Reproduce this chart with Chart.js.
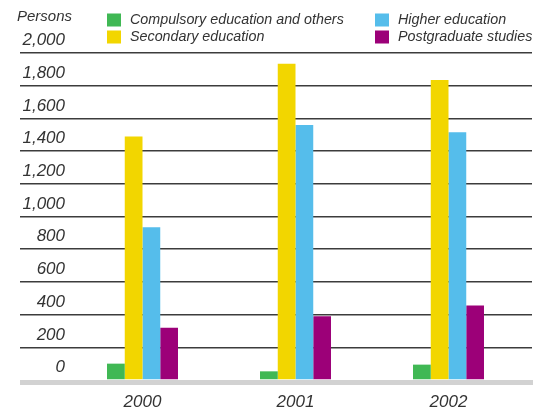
<!DOCTYPE html>
<html>
<head>
<meta charset="utf-8">
<title>Persons by education level, 2000–2002</title>
<script src="https://cdn.jsdelivr.net/npm/chart.js@4/dist/chart.umd.min.js"></script>
<style>
  html, body { margin: 0; padding: 0; background: #ffffff; }
  #wrap { width: 546px; height: 411px; position: relative; }
</style>
</head>
<body>
<div id="wrap"><canvas id="chart" width="546" height="411"></canvas></div>
<script>
// Categories and series (persons)
const years = ['2000', '2001', '2002'];
const compulsory = [100, 53, 94];
const secondary = [1490, 1935, 1835];
const higher = [935, 1560, 1515];
const postgraduate = [320, 390, 455];

const seriesNames = [
  'Compulsory education and others',
  'Secondary education',
  'Higher education',
  'Postgraduate studies'
];
const seriesColors = ['#40b854', '#f2d600', '#55bdeb', '#9c0078'];

const yMin = 0;
const yMax = 2000;
const yStep = 200;
const unitLabel = 'Persons';

const FONT = '"Liberation Sans", Arial, Helvetica, sans-serif';
const TEXT = '#333333';
const GRID = '#3c3c3c';

// Light grey base band under the zero line
const baseBand = {
  id: 'baseBand',
  beforeDatasetsDraw(chart) {
    const y = chart.scales.y.getPixelForValue(0);
    const ctx = chart.ctx;
    ctx.save();
    ctx.fillStyle = '#d2d2d2';
    ctx.fillRect(20, y, 513, 5);
    ctx.restore();
  }
};

// Unit caption and two-column legend at the top
const headLegend = {
  id: 'headLegend',
  afterDraw(chart) {
    const ctx = chart.ctx;
    ctx.save();
    ctx.textBaseline = 'middle';
    ctx.textAlign = 'left';
    ctx.fillStyle = TEXT;
    ctx.font = 'italic 15px ' + FONT;
    ctx.fillText(unitLabel, 17, 17);

    const cols = [107, 375];
    const rows = [20, 37];
    ctx.font = 'italic 14.3px ' + FONT;
    chart.data.datasets.forEach((ds, i) => {
      const cx = cols[Math.floor(i / 2)];
      const cy = rows[i % 2];
      ctx.fillStyle = ds.backgroundColor;
      ctx.fillRect(cx, cy - 6.5, 14, 13);
      ctx.fillStyle = TEXT;
      ctx.fillText(ds.label, cx + 23, cy);
    });
    ctx.restore();
  }
};

const gridColor = (c) => (c.tick && c.tick.value === 0 ? 'rgba(0,0,0,0)' : GRID);

new Chart(document.getElementById('chart'), {
  type: 'bar',
  data: {
    labels: years,
    datasets: [compulsory, secondary, higher, postgraduate].map((d, i) => ({
      label: seriesNames[i],
      data: d,
      backgroundColor: seriesColors[i],
      borderWidth: 0,
      categoryPercentage: 0.464,
      barPercentage: 1
    }))
  },
  options: {
    responsive: false,
    devicePixelRatio: 1,
    animation: false,
    layout: { padding: { top: 53, right: 14, bottom: 0, left: 0 } },
    plugins: {
      legend: { display: false },
      tooltip: { enabled: false },
      title: { display: false }
    },
    scales: {
      x: {
        type: 'category',
        grid: { display: false, drawTicks: false },
        border: { display: false },
        ticks: {
          padding: 12,
          color: TEXT,
          font: { family: FONT, size: 17, style: 'italic' }
        },
        afterFit(s) { s.height = 31; }
      },
      y: {
        type: 'linear',
        position: 'left',
        min: yMin,
        max: yMax,
        z: 1,
        grid: {
          color: gridColor,
          tickColor: gridColor,
          lineWidth: 1.5,
          drawTicks: true,
          tickLength: 46
        },
        border: { display: false },
        ticks: {
          stepSize: yStep,
          padding: -45,
          labelOffset: -12.5,
          color: TEXT,
          font: { family: FONT, size: 17, style: 'italic' },
          callback: (v) => Number(v).toLocaleString('en-US')
        },
        afterFit(s) { s.width = 66; }
      },
      yRight: {
        type: 'linear',
        position: 'right',
        min: yMin,
        max: yMax,
        z: 1,
        grid: {
          color: gridColor,
          tickColor: gridColor,
          lineWidth: 1.5,
          drawOnChartArea: false,
          drawTicks: true,
          tickLength: 7
        },
        border: { display: false },
        ticks: { stepSize: yStep, display: false },
        afterFit(s) { s.width = 7; }
      }
    }
  },
  plugins: [baseBand, headLegend]
});
</script>
</body>
</html>
